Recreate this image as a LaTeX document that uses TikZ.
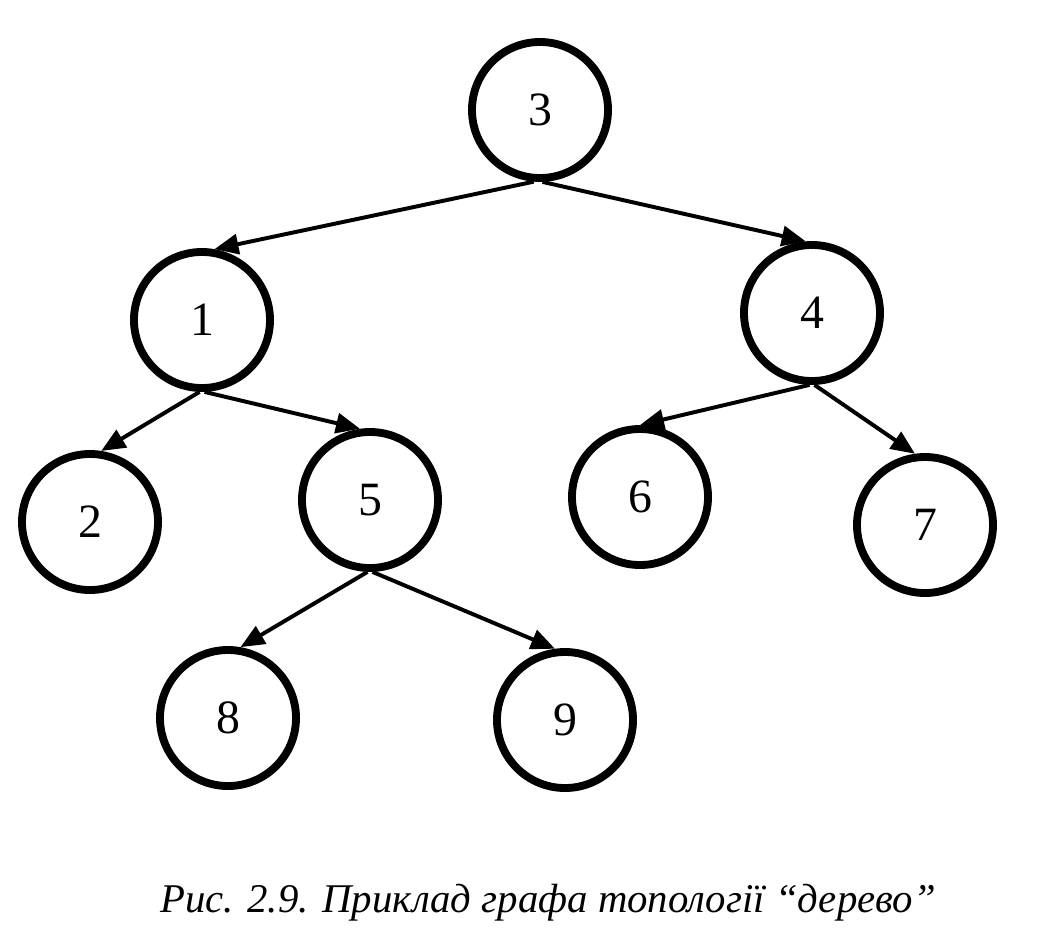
\documentclass[tikz,border=0pt]{standalone}
\usepackage{fontspec}
\setmainfont{Liberation Serif}
\usetikzlibrary{arrows.meta}

\begin{document}
\begin{tikzpicture}[
x=0.025cm, y=-0.025cm,
vertex/.style={draw, circle, line width=5.6pt, minimum size=3.4cm, inner sep=0pt, font=\fontsize{34}{34}\selectfont},
arrow/.style={-{Triangle[length=0.6cm, width=0.5cm]}, line width=2.8pt}
]
\useasboundingbox (0,0) rectangle (1040,946);
\node[vertex] (v3) at (540,110) {3};
\node[vertex] (v1) at (202,320) {1};
\node[vertex] (v4) at (812,313) {4};
\node[vertex] (v2) at (90,522) {2};
\node[vertex] (v5) at (370,500) {5};
\node[vertex] (v6) at (640,497) {6};
\node[vertex] (v7) at (925,525) {7};
\node[vertex] (v8) at (228,718) {8};
\node[vertex] (v9) at (565,720) {9};
\draw[arrow] (v3.265) -- (v1.80);
\draw[arrow] (v3.272) -- (v4.95);
\draw[arrow] (v1.268) -- (v2.81);
\draw[arrow] (v1.272) -- (v5.98);
\draw[arrow] (v4.268) -- (v6.90);
\draw[arrow] (v4.272) -- (v7.98);
\draw[arrow] (v5.268) -- (v8.80);
\draw[arrow] (v5.272) -- (v9.98);
\node[font=\itshape\fontsize{29}{29}\selectfont] (caption) at (548,903) {Рис. 2.9. Приклад графа топології “дерево”};
\end{tikzpicture}
\end{document}
